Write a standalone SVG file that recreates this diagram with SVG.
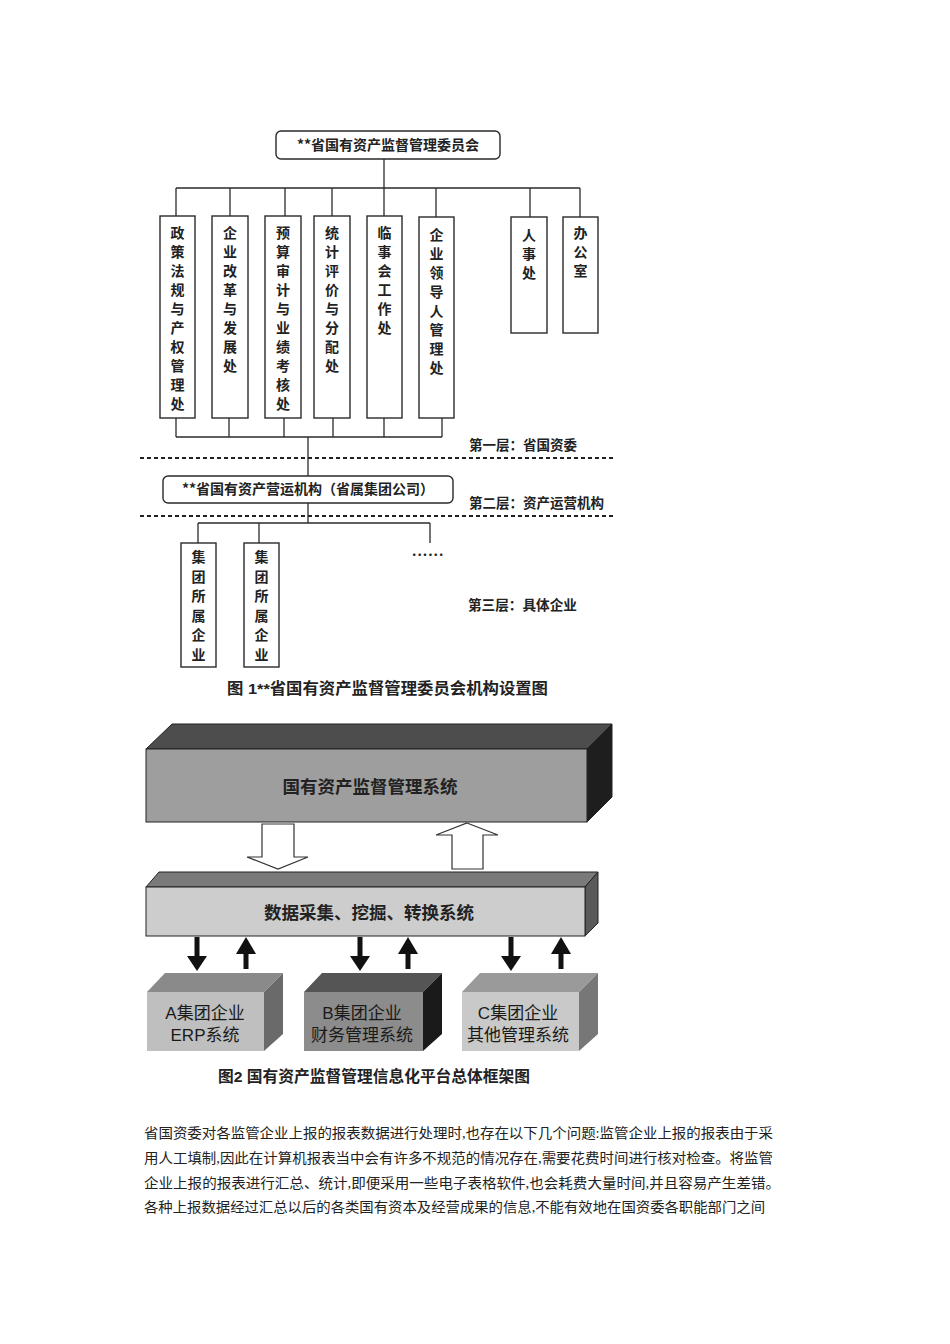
<svg xmlns="http://www.w3.org/2000/svg" width="950" height="1344" viewBox="0 0 950 1344">
<style>
.ln{stroke:#2a2a2a;stroke-width:1.3;fill:none}
.bx{fill:#fff;stroke:#2a2a2a;stroke-width:1.4}
.vt{font-family:"Noto Sans CJK SC",sans-serif;font-weight:bold;font-size:14px;fill:#222;text-anchor:middle}
.lb{font-family:"Noto Sans CJK SC",sans-serif;font-weight:bold;font-size:13.5px;fill:#222}
.cap{font-family:"Liberation Sans","Noto Sans CJK SC",sans-serif;font-weight:bold;font-size:15.5px;fill:#222}
.dash{stroke:#222;stroke-width:2.2;stroke-dasharray:4,3;fill:none}
.ed{stroke:#222;stroke-width:1}
.bt{font-family:"Liberation Sans","Noto Sans CJK SC",sans-serif;font-size:17px;fill:#1a1a1a;text-anchor:middle}
.st{font-family:"Noto Sans CJK SC",sans-serif;font-weight:bold;font-size:17.5px;fill:#222;text-anchor:middle}
.para{font-family:"Liberation Serif","Noto Sans CJK SC",serif;font-size:14px;fill:#222}
.ha{fill:#fff;stroke:#333;stroke-width:1.2}
.sa{fill:#111}
</style>
<rect width="950" height="1344" fill="#fff"/>

<g id="connectors">
<line class="ln" x1="384" y1="159" x2="384" y2="188"/>
<line class="ln" x1="176" y1="188" x2="580" y2="188"/>
<line class="ln" x1="176" y1="188" x2="176" y2="216"/>
<line class="ln" x1="230" y1="188" x2="230" y2="216"/>
<line class="ln" x1="285" y1="188" x2="285" y2="216"/>
<line class="ln" x1="332" y1="188" x2="332" y2="216"/>
<line class="ln" x1="384" y1="188" x2="384" y2="216"/>
<line class="ln" x1="436" y1="188" x2="436" y2="217"/>
<line class="ln" x1="530" y1="188" x2="530" y2="217"/>
<line class="ln" x1="580" y1="188" x2="580" y2="217"/>
<line class="ln" x1="176" y1="418" x2="176" y2="437"/>
<line class="ln" x1="229" y1="418" x2="229" y2="437"/>
<line class="ln" x1="284" y1="418" x2="284" y2="437"/>
<line class="ln" x1="333" y1="418" x2="333" y2="437"/>
<line class="ln" x1="384" y1="418" x2="384" y2="437"/>
<line class="ln" x1="442" y1="418" x2="442" y2="437"/>
<line class="ln" x1="176" y1="437" x2="442" y2="437"/>
<line class="ln" x1="308" y1="437" x2="308" y2="476"/>
<line class="ln" x1="308" y1="503" x2="308" y2="523"/>
<line class="ln" x1="198" y1="523" x2="430" y2="523"/>
<line class="ln" x1="198" y1="523" x2="198" y2="543"/>
<line class="ln" x1="259" y1="523" x2="259" y2="543"/>
<line class="ln" x1="430" y1="523" x2="430" y2="543"/>
<polygon class="ha" points="262,824 294,824 294,857 308,857 278,869 247,857 262,857"/>
<polygon class="ha" points="467,823 498,835 483,835 483,869 452,869 452,835 436,835"/>
<g class="sa">
<rect x="194.5" y="937" width="5" height="20"/><polygon points="187,956 207,956 197,971"/>
<rect x="357.5" y="937" width="5" height="20"/><polygon points="350,956 370,956 360,971"/>
<rect x="508.5" y="937" width="5" height="20"/><polygon points="501,956 521,956 511,971"/>
<polygon points="246,937 256,954 236,954"/><rect x="243.5" y="953" width="5" height="16"/>
<polygon points="408,937 418,954 398,954"/><rect x="405.5" y="953" width="5" height="16"/>
<polygon points="561,937 571,954 551,954"/><rect x="558.5" y="953" width="5" height="16"/>
</g>
</g>

<g id="n-top">
<rect class="bx" x="276" y="131" width="224" height="28" rx="5"/>
<text class="vt" x="388" y="150">**省国有资产监督管理委员会</text>
</g>

<g id="n-d1"><rect class="bx" x="160" y="216" width="35" height="202"/>
<text class="vt" y="238"><tspan x="177.5">政</tspan><tspan x="177.5" dy="19">策</tspan><tspan x="177.5" dy="19">法</tspan><tspan x="177.5" dy="19">规</tspan><tspan x="177.5" dy="19">与</tspan><tspan x="177.5" dy="19">产</tspan><tspan x="177.5" dy="19">权</tspan><tspan x="177.5" dy="19">管</tspan><tspan x="177.5" dy="19">理</tspan><tspan x="177.5" dy="19">处</tspan></text></g>
<g id="n-d2"><rect class="bx" x="212" y="216" width="36" height="202"/>
<text class="vt" y="238"><tspan x="230">企</tspan><tspan x="230" dy="19">业</tspan><tspan x="230" dy="19">改</tspan><tspan x="230" dy="19">革</tspan><tspan x="230" dy="19">与</tspan><tspan x="230" dy="19">发</tspan><tspan x="230" dy="19">展</tspan><tspan x="230" dy="19">处</tspan></text></g>
<g id="n-d3"><rect class="bx" x="265" y="216" width="36" height="202"/>
<text class="vt" y="238"><tspan x="283">预</tspan><tspan x="283" dy="19">算</tspan><tspan x="283" dy="19">审</tspan><tspan x="283" dy="19">计</tspan><tspan x="283" dy="19">与</tspan><tspan x="283" dy="19">业</tspan><tspan x="283" dy="19">绩</tspan><tspan x="283" dy="19">考</tspan><tspan x="283" dy="19">核</tspan><tspan x="283" dy="19">处</tspan></text></g>
<g id="n-d4"><rect class="bx" x="314" y="216" width="36" height="202"/>
<text class="vt" y="238"><tspan x="332">统</tspan><tspan x="332" dy="19">计</tspan><tspan x="332" dy="19">评</tspan><tspan x="332" dy="19">价</tspan><tspan x="332" dy="19">与</tspan><tspan x="332" dy="19">分</tspan><tspan x="332" dy="19">配</tspan><tspan x="332" dy="19">处</tspan></text></g>
<g id="n-d5"><rect class="bx" x="367" y="216" width="35" height="202"/>
<text class="vt" y="238"><tspan x="384.5">临</tspan><tspan x="384.5" dy="19">事</tspan><tspan x="384.5" dy="19">会</tspan><tspan x="384.5" dy="19">工</tspan><tspan x="384.5" dy="19">作</tspan><tspan x="384.5" dy="19">处</tspan></text></g>
<g id="n-d6"><rect class="bx" x="419" y="217" width="35" height="201"/>
<text class="vt" y="240"><tspan x="436.5">企</tspan><tspan x="436.5" dy="19">业</tspan><tspan x="436.5" dy="19">领</tspan><tspan x="436.5" dy="19">导</tspan><tspan x="436.5" dy="19">人</tspan><tspan x="436.5" dy="19">管</tspan><tspan x="436.5" dy="19">理</tspan><tspan x="436.5" dy="19">处</tspan></text></g>
<g id="n-d7"><rect class="bx" x="511" y="217" width="36" height="116"/>
<text class="vt" y="240"><tspan x="529">人</tspan><tspan x="529" dy="19">事</tspan><tspan x="529" dy="19">处</tspan></text></g>
<g id="n-d8"><rect class="bx" x="563" y="217" width="35" height="116"/>
<text class="vt" y="238"><tspan x="580.5">办</tspan><tspan x="580.5" dy="19">公</tspan><tspan x="580.5" dy="19">室</tspan></text></g>

<g id="layers">
<line class="dash" x1="140" y1="458" x2="614" y2="458"/>
<line class="dash" x1="140" y1="516" x2="614" y2="516"/>
<text class="lb" x="469" y="450" textLength="108" lengthAdjust="spacingAndGlyphs">第一层：省国资委</text>
<text class="lb" x="469" y="508" textLength="135" lengthAdjust="spacingAndGlyphs">第二层：资产运营机构</text>
<text class="lb" x="468" y="610" textLength="109" lengthAdjust="spacingAndGlyphs">第三层：具体企业</text>
</g>

<g id="n-mid">
<rect class="bx" x="163" y="476" width="290" height="27" rx="5"/>
<text class="vt" x="308" y="494">**省国有资产营运机构（省属集团公司）</text>
</g>

<g id="n-e1"><rect class="bx" x="181" y="543" width="35" height="124"/>
<text class="vt" y="562"><tspan x="198.5">集</tspan><tspan x="198.5" dy="19.6">团</tspan><tspan x="198.5" dy="19.6">所</tspan><tspan x="198.5" dy="19.6">属</tspan><tspan x="198.5" dy="19.6">企</tspan><tspan x="198.5" dy="19.6">业</tspan></text></g>
<g id="n-e2"><rect class="bx" x="244" y="543" width="35" height="124"/>
<text class="vt" y="562"><tspan x="261.5">集</tspan><tspan x="261.5" dy="19.6">团</tspan><tspan x="261.5" dy="19.6">所</tspan><tspan x="261.5" dy="19.6">属</tspan><tspan x="261.5" dy="19.6">企</tspan><tspan x="261.5" dy="19.6">业</tspan></text></g>
<g id="n-more"><text class="lb" x="412" y="556" letter-spacing="1">......</text></g>

<text class="cap" x="227" y="694" textLength="321" lengthAdjust="spacingAndGlyphs">图 1**省国有资产监督管理委员会机构设置图</text>

<g id="n-sys">
<polygon points="146,749 172,724 612,724 587,749" fill="#4d4d4d" class="ed"/>
<polygon points="587,749 612,724 612,797 587,822" fill="#1e1e1e" class="ed"/>
<rect x="146" y="749" width="441" height="73" fill="#9e9e9e" class="ed"/>
<text class="st" x="370" y="793">国有资产监督管理系统</text>
</g>

<g id="n-data">
<polygon points="146,887 159,872 598,872 585,887" fill="#7a7a7a" class="ed"/>
<polygon points="585,887 598,872 598,923 585,936" fill="#5a5a5a" class="ed"/>
<rect x="146" y="887" width="439" height="49" fill="#cdcdcd" class="ed"/>
<text class="st" x="369" y="919">数据采集、挖掘、转换系统</text>
</g>

<g id="n-a">
<polygon points="147,992 165,973 283,973 264,992" fill="#8a8a8a"/>
<polygon points="264,992 283,973 283,1034 264,1051" fill="#6a6a6a"/>
<rect x="147" y="992" width="117" height="59" fill="#bfbfbf"/>
<text class="bt" x="205" y="1019">A集团企业</text>
<text class="bt" x="205" y="1041">ERP系统</text>
</g>
<g id="n-b">
<polygon points="304,992 322,973 442,973 423,992" fill="#555"/>
<polygon points="423,992 442,973 442,1034 423,1051" fill="#1a1a1a"/>
<rect x="304" y="992" width="119" height="59" fill="#8c8c8c"/>
<text class="bt" x="362" y="1019">B集团企业</text>
<text class="bt" x="362" y="1041">财务管理系统</text>
</g>
<g id="n-c">
<polygon points="462,992 480,973 598,973 579,992" fill="#9a9a9a"/>
<polygon points="579,992 598,973 598,1034 579,1051" fill="#777"/>
<rect x="462" y="992" width="117" height="59" fill="#c9c9c9"/>
<text class="bt" x="518" y="1019">C集团企业</text>
<text class="bt" x="518" y="1041">其他管理系统</text>
</g>

<text class="cap" x="218" y="1082" textLength="312" lengthAdjust="spacingAndGlyphs">图2  国有资产监督管理信息化平台总体框架图</text>

<g id="paragraph">
<text class="para" x="144" y="1138" textLength="629" lengthAdjust="spacingAndGlyphs">省国资委对各监管企业上报的报表数据进行处理时,也存在以下几个问题:监管企业上报的报表由于采</text>
<text class="para" x="144" y="1163" textLength="629" lengthAdjust="spacingAndGlyphs">用人工填制,因此在计算机报表当中会有许多不规范的情况存在,需要花费时间进行核对检查。将监管</text>
<text class="para" x="144" y="1188" textLength="636" lengthAdjust="spacingAndGlyphs">企业上报的报表进行汇总、统计,即便采用一些电子表格软件,也会耗费大量时间,并且容易产生差错。</text>
<text class="para" x="144" y="1212" textLength="621" lengthAdjust="spacingAndGlyphs">各种上报数据经过汇总以后的各类国有资本及经营成果的信息,不能有效地在国资委各职能部门之间</text>
</g>
</svg>
